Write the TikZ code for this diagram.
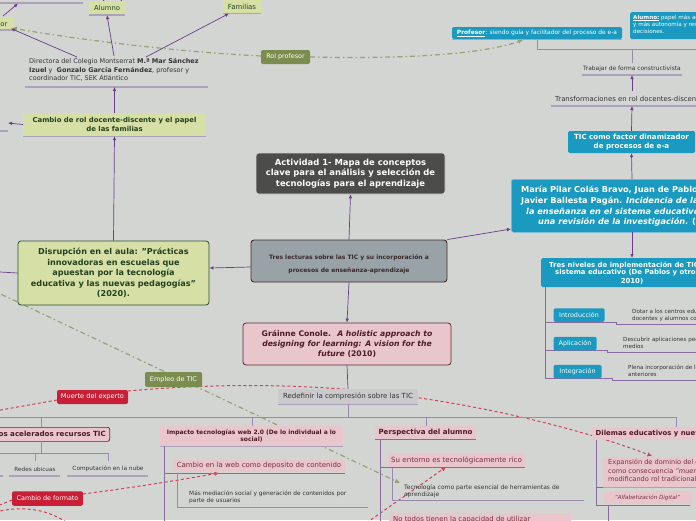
\documentclass[tikz,border=0pt]{standalone}
\usepackage{fontspec}
\setmainfont{DejaVu Sans}
\usetikzlibrary{arrows.meta}
\definecolor{bg}{HTML}{D3D5D3}
\definecolor{purp}{HTML}{6A3D8A}
\definecolor{brkc}{HTML}{9A88AE}
\definecolor{brkp}{HTML}{8A6A9E}
\definecolor{ulc}{HTML}{ADA2BB}
\definecolor{lgreen}{HTML}{D6E0A6}
\definecolor{dgreen}{HTML}{2F4B2F}
\definecolor{tgreen}{HTML}{23401F}
\definecolor{tealc}{HTML}{1A9AC0}
\definecolor{dgray}{HTML}{4C4C4A}
\definecolor{blueg}{HTML}{98A2A7}
\definecolor{brownc}{HTML}{4A2B22}
\definecolor{ttext}{HTML}{3A2A2A}
\definecolor{pinkc}{HTML}{E8C6CB}
\definecolor{pinkd}{HTML}{5E2434}
\definecolor{maroon}{HTML}{4D1A26}
\definecolor{wine}{HTML}{7A3040}
\definecolor{redc}{HTML}{C81F36}
\definecolor{olivec}{HTML}{7B8C4F}
\definecolor{gd}{HTML}{93A375}
\definecolor{lgbox}{HTML}{CACACC}
\definecolor{dtext}{HTML}{333333}
\begin{document}
\begin{tikzpicture}[x=1pt,y=-1pt,
  conn/.style={draw=purp, line width=0.7pt, -{Latex[length=4pt,width=3.6pt]}},
  plainc/.style={draw=purp, line width=0.7pt},
  brk/.style={draw=brkc, line width=1pt},
  brkv/.style={draw=brkp, line width=1pt},
  ul/.style={draw=ulc, line width=1.2pt},
  gdash/.style={draw=gd, line width=1.2pt, dash pattern=on 5pt off 3pt on 1.5pt off 3pt, -{Latex[length=5pt,width=5pt]}},
  rdash/.style={draw=redc!85!white, line width=1pt, dash pattern=on 3pt off 2.5pt, -{Latex[length=4.5pt,width=4.5pt]}},
  rdashp/.style={draw=redc!85!white, line width=1pt, dash pattern=on 3pt off 2.5pt},
  lg/.style={fill=lgreen, inner sep=0, text=tgreen},
  tealb/.style={fill=tealc, rounded corners=1.5pt, inner sep=0, text=white},
  pinkb/.style={fill=pinkc, inner sep=0, text=maroon},
  redb/.style={fill=redc, rounded corners=2pt, text=white, inner sep=0},
  oliveb/.style={fill=olivec, rounded corners=2pt, text=white, inner sep=0},
  txt/.style={inner sep=0, text=dtext}
]
\fill[bg] (0,0) rectangle (696,520);
\useasboundingbox (0,0) rectangle (696,520);

% ---------- left "Profesor" node (cut) ----------
\node[lg, minimum width=53, minimum height=13, anchor=east] (prl) at (13,23.5) {};
\node[txt, text=tgreen, anchor=east, font=\fontsize{6.8}{8}\selectfont] (prltxt) at (7.5,23.5) {Profesor};
\draw[ul] (-40,30) -- (13,30);
\coordinate (prlb) at (11,28.5);
\coordinate (prlb2) at (12,28);

% ---------- dashed lines (behind nodes) ----------
\coordinate (rolW) at (261,56);
\coordinate (rolE) at (310,57);
\coordinate (profb) at (523,40);
\draw[gdash] (rolW) .. controls (180,52) and (80,40) .. (prlb2);
\draw[gdash] (rolE) .. controls (400,59) and (480,55) .. (profb);

\coordinate (gstart) at (-10,289);
\coordinate (tecA) at (400,483);
\draw[gdash] (gstart) -- (tecA);

\coordinate (muE) at (128,391);
\coordinate (muW) at (57,400);
\coordinate (expT) at (652,456);
\coordinate (leftR1) at (-5,411);
\draw[rdash] (muE) .. controls (230,382) and (330,384) .. (420,398) .. controls (520,413) and (600,436) .. (expT);
\draw[rdashp] (muW) -- (leftR1);

\coordinate (cfE) at (83,494);
\coordinate (cwebB) at (219,473);
\coordinate (cfW) at (12,500);
\coordinate (leftR2) at (-5,507);
\draw[rdash] (cfE) .. controls (130,488) and (180,480) .. (cwebB);
\draw[rdashp] (cfW) -- (leftR2);
\coordinate (leftR3) at (-5,512);
\coordinate (botR3) at (66,522);
\draw[rdashp] (leftR3) .. controls (20,506) and (45,508) .. (botR3);

\coordinate (suB) at (446,467);
\coordinate (botR4) at (362,526);
\draw[rdash] (botR4) -- (suB);

% ---------- top-left ----------
\draw[ul] (0,3) -- (83,3);
\coordinate (tl) at (18,3.5);
\coordinate (prtop) at (3,16);
\draw[conn] (prtop) -- (tl);

\node[lg, minimum width=36, minimum height=14, font=\fontsize{6.8}{8}\selectfont] (alu) at (107,8) {Alumno};
\draw[ul] (89,15) -- (125,15);
\coordinate (aluU1) at (98,-8);
\coordinate (aluU2) at (127,-8);
\draw[plainc] (104,1) -- (aluU1);
\draw[plainc] (121,1) -- (aluU2);

\node[lg, minimum width=38, minimum height=13, font=\fontsize{7}{8}\selectfont] (fam) at (242,6.5) {Familias};
\draw[ul] (223,13.5) -- (261,13.5);
\coordinate (famb) at (229,13.5);

\node[txt, anchor=north west, align=left, font=\fontsize{6.5}{8.4}\selectfont] (dir) at (29,58.5)
 {Directora del Colegio Montserrat \textbf{M.ª Mar Sánchez}\\\textbf{Izuel} y\ \ \textbf{Gonzalo García Fernández}, profesor y\\coordinador TIC, SEK Atlántico};
\draw[ul] (25,87) -- (208,87);
\coordinate (dirbot) at (114.5,87);
\coordinate (dA) at (77,57);
\coordinate (dB) at (114,56);
\coordinate (dC) at (146,57);
\draw[conn] (dA) -- (prlb);
\draw[conn] (dB) -- (alu.south);
\draw[conn] (dC) -- (famb);

\node[lg, minimum width=183, minimum height=23, align=center, font=\bfseries\fontsize{6.9}{8.4}\selectfont] (cambio) at (114.5,124.5)
 {Cambio de rol docente-discente y el papel\\de las familias};
\draw[ul] (23,136.5) -- (206,136.5);
\draw[conn] (cambio.north) -- (dirbot);
\coordinate (cl) at (8,123);
\draw[conn] (cambio.west) -- (cl);
\draw[ul] (0,131) -- (8,131);

% ---------- Rol profesor ----------
\node[oliveb, minimum width=49, minimum height=14, font=\fontsize{6.4}{7}\selectfont] (rol) at (285.5,57) {Rol profesor};

% ---------- top right ----------
\node[tealb, minimum width=170, minimum height=12, font=\fontsize{5.9}{6.5}\selectfont] (prof) at (537,33)
 {\underline{\textbf{Profesor}}: siendo guía y facilitador del proceso de e-a};
\draw[draw=ulc, line width=1pt] (452,39.5) -- (622,39.5);
\node[tealb, anchor=north west, minimum width=100, minimum height=27] (alut) at (630,12) {};
\node[txt, text=white, anchor=north west, align=left, font=\fontsize{5.6}{7.4}\selectfont] (aluttxt) at (633,14.5)
 {\underline{\textbf{Alumno:}} papel más activo\\y más autonomía y responsabilidad\\decisiones.};
\draw[brk] (537,39.5) -- (537,49) -- (700,49);
\coordinate (trabT) at (632,63);
\draw[brk] (632,49) -- (trabT);

\node[txt, font=\fontsize{5.9}{6.5}\selectfont] (trab) at (632,69) {Trabajar de forma constructivista};
\draw[ul] (582,75) -- (682,75);
\coordinate (trabb) at (632,75);
\node[txt, anchor=west, font=\fontsize{6.9}{8}\selectfont] (transf) at (555,99) {Transformaciones en rol docentes-discentes};
\draw[ul] (551,106) -- (700,106);
\coordinate (transfb) at (632,106);
\coordinate (transft) at (632,91);
\draw[conn] (transft) -- (trabb);

\node[tealb, minimum width=127, minimum height=22, align=center, font=\bfseries\fontsize{7.1}{8.6}\selectfont] (ticf) at (631.5,142)
 {TIC como factor dinamizador\\de procesos de e-a};
\draw[conn] (ticf.north) -- (transfb);

\node[tealb, anchor=north west, minimum width=250, minimum height=53, rounded corners=2.5pt, draw=tealc!60!white, line width=0.5pt] (colas) at (511,179) {};
\begin{scope}[every node/.style={txt, text=white, anchor=west, font=\bfseries\fontsize{8.2}{9}\selectfont}]
\node (c1) at (521,190) {María Pilar Colás Bravo, Juan de Pablos Pons y};
\node (c2) at (521,201) {Javier Ballesta Pagán. \textit{Incidencia de las TIC en}};
\node (c3) at (526,212) {\textit{la enseñanza en el sistema educativo español:}};
\node (c4) at (538,222.5) {\textit{una revisión de la investigación.} (2010)};
\end{scope}
\coordinate (colasT) at (632,179);
\coordinate (colasB) at (632,232);
\coordinate (colasL) at (511,229);
\draw[conn] (colasT) -- (ticf.south);

\node[tealb, anchor=north west, minimum width=200, minimum height=29] (niv) at (541,258) {};
\begin{scope}[every node/.style={txt, text=white, font=\bfseries\fontsize{6.9}{8}\selectfont}]
\node[anchor=west] (n1) at (549,265) {Tres niveles de implementación de TIC en el};
\node[anchor=west] (n2) at (555,273) {sistema educativo (De Pablos y otros,};
\node (n3) at (632,281.5) {2010)};
\end{scope}
\coordinate (nivT) at (632,258);
\draw[conn] (colasB) -- (nivT);

\draw[brkv] (545,287) -- (545,378);
\draw[brkv] (545,322) -- (616,322) -- (616,324.5) -- (700,324.5);
\draw[brkv] (545,350) -- (607,350) -- (607,352.5) -- (700,352.5);
\draw[brkv] (545,378) -- (612,378) -- (612,380.5) -- (700,380.5);
\node[tealb, minimum width=51, minimum height=13.5, font=\fontsize{6.4}{7}\selectfont] (intro) at (579,315) {Introducción};
\node[tealb, minimum width=43, minimum height=13.5, font=\fontsize{6.4}{7}\selectfont] (apli) at (575,343.5) {Aplicación};
\node[tealb, minimum width=48, minimum height=13.5, font=\fontsize{6.4}{7}\selectfont] (integ) at (577.5,371.5) {Integración};
\begin{scope}[every node/.style={txt, anchor=north west, align=left, font=\fontsize{5.6}{7}\selectfont}]
\node (d1) at (632,309.5) {Dotar a los centros educativos de recursos\\docentes y alumnos con formación};
\node (d2) at (623,337) {Descubrir aplicaciones pedagógicas de los\\medios};
\node (d3) at (628,365) {Plena incorporación de las TIC en las etapas\\anteriores};
\end{scope}

% ---------- center ----------
\node[fill=dgray, draw=white!75!dgray, line width=0.6pt, rounded corners=3pt, minimum width=189, minimum height=41, inner sep=0] (act) at (350.5,173.5) {};
\node[txt, align=center, text=white, font=\bfseries\fontsize{8.4}{10.5}\selectfont] (acttxt) at (350.5,173.5)
 {Actividad 1- Mapa de conceptos\\clave para el análisis y selección de\\tecnologías para el aprendizaje};
\node[fill=blueg, draw=brownc, line width=0.9pt, rounded corners=3pt, minimum width=196, minimum height=42, inner sep=0] (tres) at (349,261) {};
\node[txt, align=center, text=ttext, font=\bfseries\fontsize{6}{12.8}\selectfont] (trestxt) at (349,264.5)
 {Tres lecturas sobre las TIC y su incorporación a\\procesos de enseñanza-aprendizaje};
\draw[conn] (tres.north) -- (act.south);
\draw[conn] (tres.north east) -- (colasL);

\node[draw=dgreen, line width=0.8pt, fill=lgreen, rounded corners=3pt, minimum width=191, minimum height=64, inner sep=0] (dis) at (113.5,273) {};
\node[txt, align=center, text=tgreen, font=\bfseries\fontsize{8.1}{10.5}\selectfont] (distxt) at (113.5,273)
 {Disrupción en el aula: "Prácticas\\innovadoras en escuelas que\\apuestan por la tecnología\\educativa y las nuevas pedagogías"\\(2020).};
\draw[conn] (dis.north) -- (cambio.south);
\coordinate (disl) at (0,272);
\draw[plainc] (dis.west) -- (disl);
\draw[conn] ([yshift=-6pt]tres.west) -- ([yshift=5pt]dis.east);

\node[fill=pinkc, draw=pinkd, line width=0.8pt, rounded corners=3pt, minimum width=208, minimum height=42, inner sep=0] (con) at (347,344) {};
\node[txt, align=center, text=maroon, font=\bfseries\fontsize{7.7}{10.4}\selectfont] (contxt) at (347,344)
 {Gráinne Conole.~ \textit{A holistic approach to}\\\textit{designing for learning: A vision for the}\\\textit{future} (2010)};
\draw[conn] (tres.south) -- (con.north);

\node[fill=lgbox, minimum width=140, minimum height=15, font=\fontsize{7}{8}\selectfont, text=dtext, inner sep=0] (redef) at (348,396.5) {Redefinir la compresión sobre las TIC};
\draw[draw=ulc, line width=1pt] (278,404.5) -- (418,404.5);
\draw[plainc] (con.south) -- (redef.north);
\coordinate (bus) at (348,417);
\draw[brk] (redef.south) -- (bus);

\node[redb, minimum width=71, minimum height=14, font=\fontsize{6.6}{7.5}\selectfont] (muerte) at (92.5,397) {Muerte del experto};
\node[oliveb, minimum width=57, minimum height=15, font=\fontsize{6.5}{7.5}\selectfont] (empleo) at (173.5,379.5) {Empleo de TIC};

% ---------- bottom bus ----------
\draw[brk] (0,417) -- (676,417) -- (676,428);
\draw[brk] (41,417) -- (41,427);
\draw[brk] (252,417) -- (252,426);
\draw[brk] (426,417) -- (426,426);

% left branch
\node[fill=pinkc, draw=pinkd, line width=0.7pt, rounded corners=2pt, anchor=north east, minimum width=150, minimum height=14, inner sep=0] (acel) at (110,427) {};
\node[txt, text=maroon, anchor=east, font=\bfseries\fontsize{7.1}{7.5}\selectfont] (aceltxt) at (106,433.5) {Cambios acelerados recursos TIC};
\draw[brk] (41,441) -- (41,453);
\draw[brk] (0,453) -- (108,453);
\draw[brk] (35,453) -- (35,461);
\draw[brk] (108,453) -- (108,461);
\node[txt, font=\fontsize{5.7}{7}\selectfont] (redes) at (35,469) {Redes ubicuas};
\node[txt, font=\fontsize{5.8}{7}\selectfont] (nube) at (108,469) {Computación en la nube};
\draw[ul] (9,476) -- (60,476);
\draw[ul] (67,476) -- (148,476);
\draw[ul] (0,476) -- (3,476);
\node[redb, minimum width=71, minimum height=14.5, font=\fontsize{6.4}{7.5}\selectfont] (cformato) at (47.5,498.5) {Cambio de formato};

% Impacto branch
\node[pinkb, minimum width=183, minimum height=20, align=center, font=\bfseries\fontsize{6}{7.4}\selectfont] (impacto) at (251.5,436)
 {Impacto tecnologías web 2.0 (De lo individual a lo\\social)};
\draw[draw=ulc, line width=1pt] (160,446) -- (343,446);
\draw[brkv] (164,446) -- (164,522);
\node[pinkb, text=wine, minimum width=172, minimum height=12.5, font=\fontsize{7}{8}\selectfont] (cweb) at (259,466) {Cambio en la web como deposito de contenido};
\draw[brkv] (164,473) -- (345,473);
\draw[brk] (177,473) -- (177,507) -- (368,507);
\node[txt, anchor=north west, align=left, font=\fontsize{5.85}{7.2}\selectfont] (medi) at (189,490.5)
 {Más mediación social y generación de contenidos por\\parte de usuarios};

% Perspectiva branch
\node[pinkb, minimum width=101, minimum height=13, font=\bfseries\fontsize{7.1}{8}\selectfont] (persp) at (425.5,432.5) {Perspectiva del alumno};
\draw[brkv] (375,439.5) -- (476,439.5);
\draw[brkv] (380,439.5) -- (380,522);
\node[pinkb, text=wine, minimum width=137, minimum height=14, font=\fontsize{7.1}{8}\selectfont] (entorno) at (456.5,460) {Su entorno es tecnológicamente rico};
\draw[brkv] (380,467.5) -- (525,467.5);
\draw[brk] (392,467.5) -- (392,500) -- (584,500);
\node[txt, anchor=north west, align=left, font=\fontsize{6}{7.6}\selectfont] (tecno) at (404,484)
 {Tecnología como parte esencial de herramientas de\\aprendizaje};
\node[pinkb, text=wine, anchor=north west, minimum width=182, minimum height=16, inner sep=0] (notodos) at (389,513) {};
\node[txt, text=wine, anchor=west, font=\fontsize{6.9}{8}\selectfont] (notxt) at (393,520) {No todos tienen la capacidad de utilizar};

% Dilemas branch
\node[pinkb, anchor=north west, minimum width=120, minimum height=13] (dil) at (592,427) {};
\node[txt, text=maroon, anchor=west, font=\bfseries\fontsize{6.9}{8}\selectfont] (diltxt) at (595.5,433.5) {Dilemas educativos y nuevos retos};
\draw[brkv] (596,440) -- (596,505) -- (690,505);
\draw[brkv] (596,487) -- (603,487);
\node[pinkb, anchor=north west, minimum width=120, minimum height=30] (expan) at (603,457) {};
\node[txt, text=wine, anchor=north west, align=left, font=\fontsize{6.6}{8.6}\selectfont] (exptxt) at (608,459)
 {Expansión de dominio del conocimiento\\como consecuencia \textit{"muerte del experto"}\\modificando rol tradicional del docente};
\draw[draw=ulc, line width=1pt] (603,487.5) -- (700,487.5);
\node[pinkb, text=wine, minimum width=88, minimum height=13, font=\itshape\fontsize{5.6}{7}\selectfont] (alfa) at (647.5,497.5) {"Alfabetización Digital"};
\draw[brkv] (608,505) -- (608,522);
\end{tikzpicture}
\end{document}
